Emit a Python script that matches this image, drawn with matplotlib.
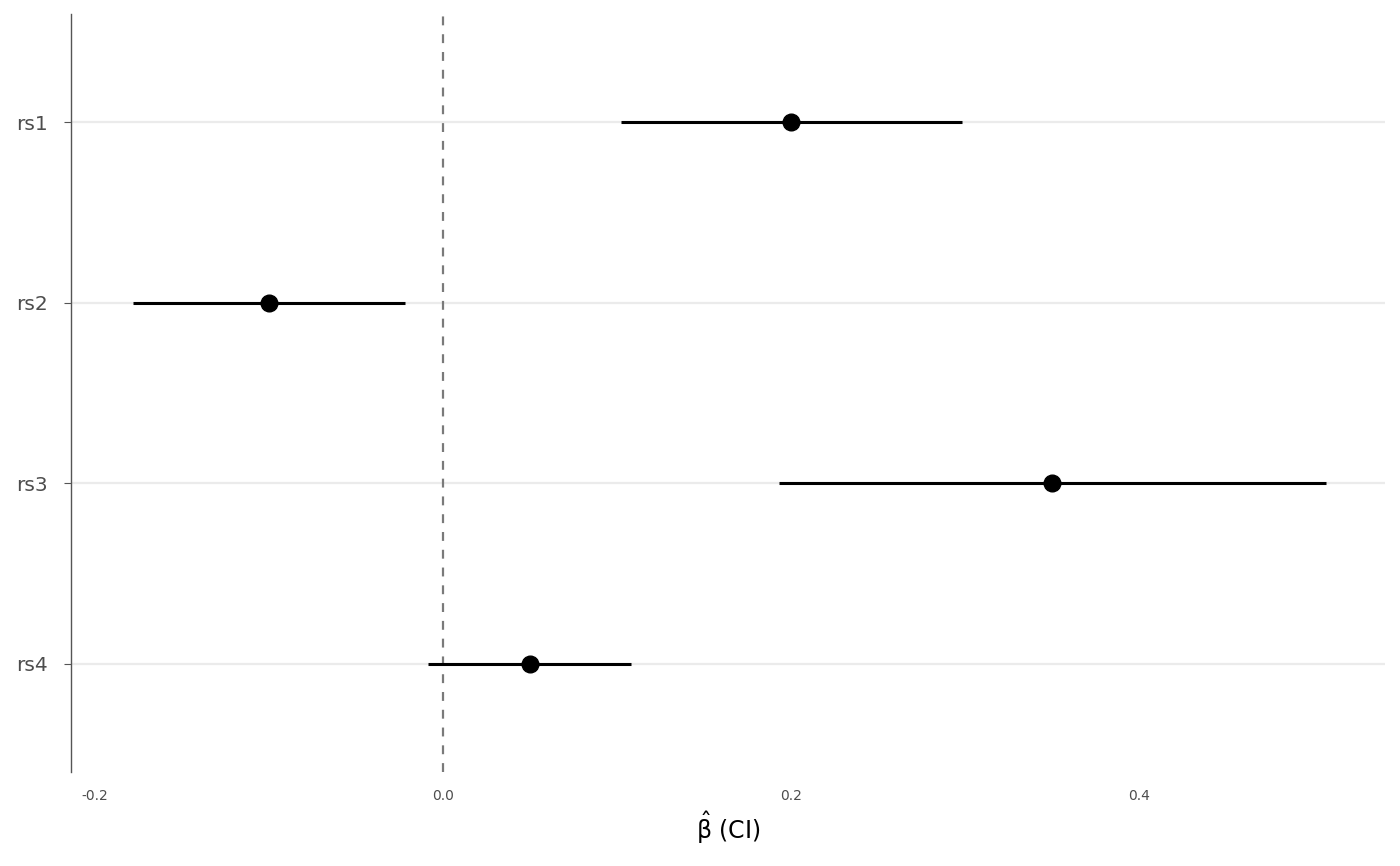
import matplotlib.pyplot as plt

# estimates and confidence intervals per SNP
snps = ["rs1", "rs2", "rs3", "rs4"]
beta = [0.2, -0.1, 0.35, 0.05]
ci_low = [0.102, -0.178, 0.193, -0.009]
ci_high = [0.298, -0.022, 0.507, 0.108]

fig = plt.figure(figsize=(14, 8.66), dpi=100)
ax = fig.add_axes([71 / 1400, 1 - 772 / 866, (1385 - 71) / 1400, (772 - 14) / 866])

ypos = list(range(1, len(snps) + 1))

# light horizontal grid at each SNP
for y in ypos:
    ax.axhline(y, color="#ebebeb", lw=1.6, zorder=0)

# reference line at zero
ax.axvline(0, color="#7a7a7a", lw=1.6, ls=(0, (4, 4)), zorder=1)

ax.hlines(ypos, ci_low, ci_high, color="black", lw=2.2, zorder=2)
ax.plot(beta, ypos, "o", color="black", markersize=12, zorder=3)

ax.set_xlim(-0.2138, 0.541)
ax.set_ylim(4.6, 0.4)
ax.set_yticks(ypos)
ax.set_yticklabels(snps)
ax.set_xticks([-0.2, 0.0, 0.2, 0.4])
ax.set_xticklabels(["-0.2", "0.0", "0.2", "0.4"])

for s in ["top", "right", "bottom"]:
    ax.spines[s].set_visible(False)
ax.spines["left"].set_color("#555555")
ax.spines["left"].set_linewidth(1.0)

ax.tick_params(axis="y", length=5, color="#555555", labelsize=14.5, labelcolor="#4d4d4d", pad=12)
ax.tick_params(axis="x", length=0, labelsize=10, labelcolor="#4d4d4d", pad=12)

ax.set_xlabel(r"$\hat{\mathrm{\beta}}$ (CI)", fontsize=17, labelpad=5)

fig.savefig("out.png", dpi=100)
